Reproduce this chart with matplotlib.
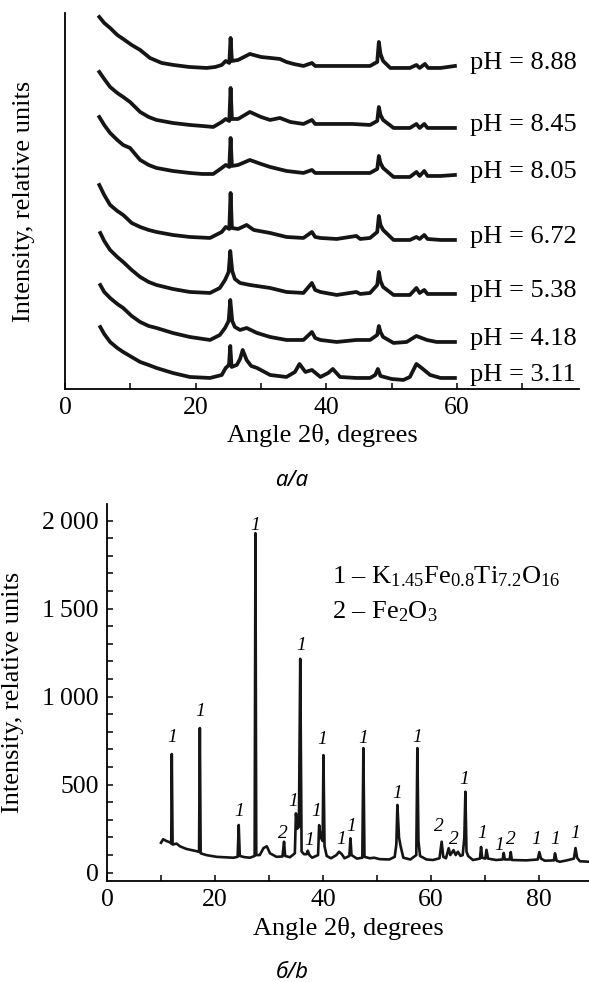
#!/usr/bin/env python3

import matplotlib
import matplotlib.pyplot as plt
from matplotlib.ticker import MultipleLocator

matplotlib.use("Agg")

# ---- panel a: XRD patterns vs pH (offset curves, relative units) ----
PH_888_X = [5.25, 6.0, 6.9, 8.0, 8.9, 10.2, 11.5, 13.0, 14.8, 16.6, 19.0, 21.7, 23.0, 24.0, 24.6, 25.15, 25.35, 25.55,
            26.5, 28.3, 30.0, 32.9, 33.9, 35.0, 36.5, 37.8, 38.3, 41.6, 44.0, 46.7, 47.8, 48.05, 48.3, 48.7, 49.8,
            52.8, 53.8, 54.3, 55.1, 55.6, 57.5, 59.7]
PH_888_Y = [372, 366, 361, 354, 350, 344, 339, 331, 326, 324, 322, 321, 322, 324, 328, 326, 351, 328,
            329, 335, 332, 330, 327, 325, 323, 326, 323, 323, 323, 323, 327, 347, 335, 328, 321,
            321, 324, 321, 325, 321, 321, 323]

PH_845_X = [5.25, 6.0, 6.9, 8.0, 8.9, 9.95, 11.5, 12.8, 14.0, 16.5, 19.1, 21.0, 22.7, 24.0, 24.6, 25.15, 25.35, 25.55,
            26.5, 28.3, 30.0, 31.4, 32.9, 34.5, 36.5, 37.8, 38.3, 41.6, 44.0, 46.7, 47.8, 48.05, 48.3, 48.7, 50.3,
            52.8, 53.8, 54.3, 55.0, 55.5, 57.5, 59.7]
PH_845_Y = [317, 310, 302, 296, 292, 287, 277, 272, 269, 266, 264, 263, 262, 267, 270, 268, 301, 270,
            270, 277, 272, 269, 271, 267, 265, 269, 265, 265, 265, 264, 268, 282, 274, 269, 261,
            261, 265, 261, 265, 261, 261, 261]

PH_805_X = [5.25, 6.0, 6.9, 8.0, 8.9, 9.95, 11.5, 12.8, 14.0, 16.5, 19.1, 21.0, 22.7, 24.0, 24.6, 25.15, 25.35, 25.55,
            26.5, 28.3, 30.0, 31.4, 33.9, 36.5, 37.8, 38.3, 41.6, 44.0, 46.7, 47.8, 48.05, 48.3, 48.7, 50.3,
            52.8, 53.8, 54.3, 55.0, 55.5, 57.5, 59.7]
PH_805_Y = [272, 264, 256, 249, 244, 241, 229, 224, 221, 218, 216, 215, 215, 221, 224, 222, 251, 223,
            224, 229, 225, 222, 218, 216, 219, 216, 216, 216, 216, 220, 233, 226, 221, 212,
            212, 217, 213, 218, 213, 213, 214]

PH_672_X = [5.25, 6.0, 6.9, 8.0, 8.9, 9.4, 10.2, 11.5, 12.8, 14.0, 16.5, 19.1, 22.2, 24.0, 24.6, 25.15, 25.35, 25.55,
            26.5, 27.8, 28.9, 31.4, 33.9, 36.5, 37.8, 38.3, 39.1, 41.6, 44.6, 45.2, 46.7, 47.8, 48.05, 48.3, 48.7,
            50.3, 52.8, 53.8, 54.3, 55.0, 55.5, 57.5, 59.7]
PH_672_Y = [204, 194, 184, 178, 174, 171, 166, 162, 159, 157, 154, 152, 151, 157, 162, 160, 196, 161,
            160, 164, 159, 156, 152, 151, 157, 152, 151, 150, 153, 150, 151, 157, 173, 164, 159,
            149, 149, 152, 150, 154, 150, 149, 149]

PH_538_X = [5.4, 6.0, 6.9, 8.0, 8.9, 10.2, 11.5, 12.8, 14.0, 16.5, 19.1, 22.2, 23.7, 24.5, 25.05, 25.3, 25.6, 26.0,
            26.8, 28.3, 31.4, 33.9, 36.5, 37.8, 38.3, 39.1, 41.6, 44.6, 45.2, 46.7, 47.8, 48.05, 48.3, 48.7,
            50.3, 52.8, 53.8, 54.3, 55.0, 55.5, 57.5, 59.7]
PH_538_Y = [156, 148, 139, 132, 127, 119, 112, 107, 104, 100, 97, 96, 101, 109, 117, 138, 118, 110,
            106, 104, 101, 97, 96, 106, 99, 97, 94, 97, 95, 96, 104, 117, 108, 102,
            94, 94, 101, 96, 99, 95, 95, 95]

PH_418_X = [5.4, 6.0, 6.9, 8.0, 8.9, 10.2, 11.5, 12.8, 14.0, 16.5, 19.1, 22.2, 23.7, 24.5, 25.05, 25.3, 25.6, 26.0,
            26.8, 27.8, 29.4, 31.4, 33.9, 36.5, 37.8, 38.3, 39.1, 41.6, 44.6, 46.7, 47.8, 48.05, 48.3, 48.7,
            50.3, 52.3, 53.8, 54.6, 55.4, 56.9, 59.7]
PH_418_Y = [104, 97, 91, 85, 81, 73, 67, 63, 61, 56, 52, 49, 54, 61, 68, 89, 68, 62,
            59, 61, 56, 52, 49, 49, 57, 51, 49, 47, 49, 49, 54, 63, 57, 52,
            46, 47, 53, 51, 49, 47, 47]

PH_311_X = [5.4, 6.0, 6.9, 8.0, 8.9, 10.2, 11.5, 12.8, 14.0, 16.5, 19.1, 22.2, 24.0, 24.6, 25.1, 25.3, 25.5, 26.3,
            26.8, 27.2, 27.8, 28.5, 29.4, 31.4, 33.9, 35.2, 35.9, 36.8, 37.8, 39.1, 40.3, 41.0, 42.1, 44.6,
            46.7, 47.5, 47.9, 48.3, 50.0, 51.8, 52.8, 53.8, 54.6, 55.9, 57.5, 59.7]
PH_311_Y = [62, 55, 47, 41, 37, 32, 27, 24, 21, 16, 12, 11, 14, 21, 24, 43, 22, 24,
            30, 39, 29, 23, 21, 14, 12, 17, 25, 17, 19, 12, 16, 20, 12, 11,
            11, 14, 20, 13, 10, 9, 12, 25, 21, 14, 11, 11]

PH_LABELS = ["8.88", "8.45", "8.05", "6.72", "5.38", "4.18", "3.11"]

# ---- panel b: XRD pattern of the calcined product ----
B_ANGLE = [10.0, 10.4, 11.0, 11.7, 11.9, 12.0, 12.15, 12.9, 13.5, 14.7, 16.6, 17.05, 17.2, 17.35, 18.4, 20.3,
           23.4, 24.2, 24.4, 24.6, 25.5, 26.5, 27.35, 27.5, 27.65, 28.3, 29.0, 29.6, 30.2, 31.4, 32.5, 32.8,
           33.0, 33.9, 34.8, 35.0, 35.25, 35.55, 35.8, 36.05, 36.5, 37.0, 37.2, 37.5, 38.0, 39.1, 39.3, 39.6,
           39.95, 40.1, 40.3, 40.7, 41.5, 42.5, 43.0, 43.5, 44.0, 44.9, 45.1, 45.3, 46.3, 47.3, 47.5, 47.7,
           48.7, 49.5, 50.5, 52.3, 53.3, 53.6, 53.8, 54.1, 54.4, 54.9, 56.2, 57.3, 57.5, 57.7, 58.0, 59.2,
           60.4, 61.6, 62.0, 62.3, 62.8, 63.3, 63.6, 64.2, 64.6, 65.0, 65.5, 65.9, 66.2, 66.4, 66.6, 66.9,
           67.8, 69.1, 69.3, 69.5, 70.1, 70.3, 70.6, 72.1, 73.3, 73.5, 73.7, 74.6, 74.8, 75.0, 77.7, 79.8,
           80.1, 80.4, 81.1, 82.8, 83.0, 83.3, 83.9, 85.2, 86.5, 86.8, 87.1, 87.6, 89.3]
B_INTENSITY = [170, 190, 180, 172, 165, 674, 160, 165, 150, 135, 122, 118, 822, 110, 100, 90,
               85, 90, 271, 95, 88, 85, 95, 1929, 100, 100, 140, 150, 110, 90, 92, 176,
               95, 88, 110, 337, 250, 260, 1215, 120, 105, 105, 125, 100, 85, 100, 270, 200,
               180, 668, 150, 95, 82, 100, 119, 105, 82, 95, 195, 100, 80, 85, 708, 90,
               82, 85, 77, 75, 90, 160, 385, 200, 150, 85, 75, 100, 708, 180, 95, 75,
               72, 82, 176, 90, 82, 139, 100, 128, 100, 119, 95, 100, 200, 460, 120, 95,
               72, 80, 146, 85, 80, 130, 80, 72, 75, 112, 75, 75, 117, 72, 70, 75,
               117, 80, 68, 70, 110, 68, 62, 70, 80, 140, 85, 65, 62]

# phase marks: 1 - K1.45Fe0.8Ti7.2O16, 2 - Fe2O3
MARK_X = [12.0, 17.2, 24.4, 27.5, 32.6, 34.5, 35.9, 37.4, 38.8, 39.9, 43.3, 45.2, 47.5, 53.8, 57.5,
          61.5, 64.3, 66.2, 69.5, 72.7, 74.8, 79.6, 83.0, 86.7]
MARK_Y = [766, 915, 347, 1975, 225, 403, 1293, 184, 347, 754, 186, 261, 764, 451, 769,
          261, 190, 527, 224, 157, 190, 186, 186, 220]
MARK_TEXT = ["1", "1", "1", "1", "2", "1", "1", "1", "1", "1", "1", "1", "1", "1", "1",
             "2", "2", "1", "1", "1", "2", "1", "1", "1"]

LINE_COLOR = "#151515"

plt.rcParams.update(
    {
        "font.family": ["Liberation Serif", "DejaVu Serif"],
        "mathtext.fontset": "custom",
        "mathtext.rm": "Liberation Serif",
        "mathtext.it": "Liberation Serif:italic",
        "font.size": 19,
        "axes.linewidth": 1.3,
        "xtick.direction": "in",
        "ytick.direction": "in",
        "xtick.major.size": 4.5,
        "xtick.minor.size": 4.5,
        "ytick.major.size": 4.5,
        "ytick.minor.size": 4.5,
        "xtick.major.width": 1.1,
        "xtick.minor.width": 1.1,
        "ytick.major.width": 1.1,
        "ytick.minor.width": 1.1,
        "xtick.labelsize": 18.5,
        "ytick.labelsize": 18.5,
        "axes.spines.top": False,
        "axes.spines.right": False,
    }
)


def main():
    fig = plt.figure(figsize=(5.89, 9.82), dpi=100)

    # ---------- panel a ----------
    ax = fig.add_axes([0.1104, 0.6039, 0.8727, 0.3829])
    curves = [
        (PH_888_X, PH_888_Y), (PH_845_X, PH_845_Y), (PH_805_X, PH_805_Y), (PH_672_X, PH_672_Y),
        (PH_538_X, PH_538_Y), (PH_418_X, PH_418_Y), (PH_311_X, PH_311_Y),
    ]
    for (xs, ys), label in zip(curves, PH_LABELS):
        ax.plot(xs, ys, color=LINE_COLOR, lw=2.7, solid_joinstyle="round")
        ax.text(62.0, ys[-1] + 3, f"pH = {label}", va="center", ha="left", fontsize=19)

    ax.set_xlim(0, 78.7)
    ax.set_ylim(0, 376)
    ax.xaxis.set_minor_locator(MultipleLocator(10))
    ax.set_xticks([0, 20, 40, 60])
    ax.set_yticks([])
    ax.tick_params(axis="x", which="both", pad=6)
    ax.set_xlabel("Angle 2θ, degrees", fontsize=19)
    ax.xaxis.set_label_coords(0.5, -0.125)
    ax.xaxis.label.set_va("center")
    ax.set_ylabel("Intensity, relative units", fontsize=19)
    ax.yaxis.set_label_coords(-0.08, 0.5)
    ax.yaxis.label.set_va("center")

    fig.text(292 / 589, 1 - 481 / 982, "а/a", ha="center", va="center", fontsize=16,
             style="italic", family=["Noto Sans", "DejaVu Sans"])

    # ---------- panel b ----------
    bx = fig.add_axes([0.1817, 0.1029, 0.8183, 0.3839])
    bx.plot(B_ANGLE, B_INTENSITY, color=LINE_COLOR, lw=1.9, solid_joinstyle="round")
    for mx, my, mt in zip(MARK_X, MARK_Y, MARK_TEXT):
        bx.text(mx, my, mt, ha="center", va="center", fontsize=14, style="italic")

    bx.set_xlim(0, 89.3)
    bx.set_ylim(-47, 2095)
    bx.xaxis.set_minor_locator(MultipleLocator(10))
    bx.set_xticks([0, 20, 40, 60, 80])
    bx.yaxis.set_minor_locator(MultipleLocator(100))
    bx.set_yticks([0, 500, 1000, 1500, 2000])
    bx.set_yticklabels(["0", "500", "1\u2009000", "1\u2009500", "2\u2009000"])
    bx.tick_params(axis="both", which="both", pad=6)
    bx.set_xlabel("Angle 2θ, degrees", fontsize=19)
    bx.xaxis.set_label_coords(0.5, -0.125)
    bx.xaxis.label.set_va("center")
    bx.set_ylabel("Intensity, relative units", fontsize=19)
    bx.yaxis.set_label_coords(-0.195, 0.5)
    bx.yaxis.label.set_va("center")

    bx.text(0.467, 0.806, r"$\mathit{1}$ – K$_{1.45}$Fe$_{0.8}$Ti$_{7.2}$O$_{16}$",
            transform=bx.transAxes, ha="left", va="center", fontsize=19)
    bx.text(0.467, 0.714, r"$\mathit{2}$ – Fe$_{2}$O$_{3}$",
            transform=bx.transAxes, ha="left", va="center", fontsize=19)

    fig.text(292 / 589, 1 - 973 / 982, "б/b", ha="center", va="center", fontsize=16,
             style="italic", family=["Noto Sans", "DejaVu Sans"])

    fig.savefig("out.png", dpi=100, facecolor="white")
    plt.close(fig)


if __name__ == "__main__":
    main()
